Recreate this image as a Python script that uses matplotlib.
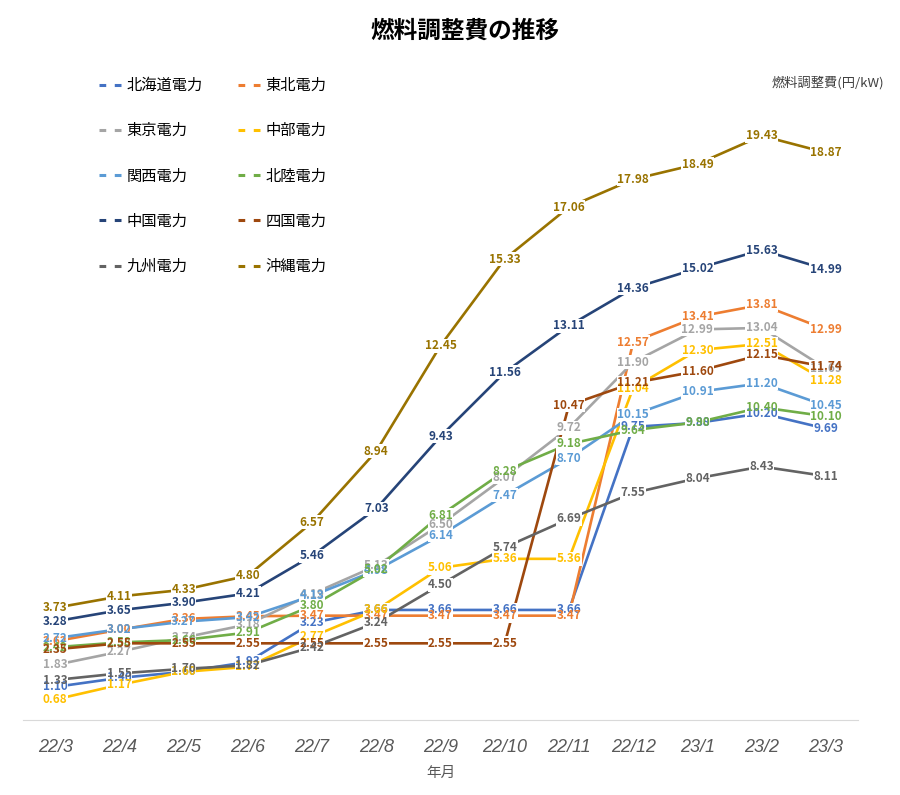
import matplotlib
matplotlib.use('Agg')
import matplotlib.pyplot as plt
from matplotlib.lines import Line2D

plt.rcParams['font.family'] = ['Noto Sans CJK JP', 'DejaVu Sans']

# ===== データ =====
months = ['22/3', '22/4', '22/5', '22/6', '22/7', '22/8', '22/9',
          '22/10', '22/11', '22/12', '23/1', '23/2', '23/3']

hokkaido = [1.10, 1.40, 1.60, 1.93, 3.23, 3.66, 3.66, 3.66, 3.66, 9.75, 9.88, 10.20, 9.69]
tohoku   = [2.62, 3.00, 3.36, 3.45, 3.47, 3.47, 3.47, 3.47, 3.47, 12.57, 13.41, 13.81, 12.99]
tokyo    = [1.83, 2.27, 2.74, 3.18, 4.19, 5.13, 6.50, 8.07, 9.72, 11.90, 12.99, 13.04, 11.69]
chubu    = [0.68, 1.17, 1.60, 1.77, 2.77, 3.66, 5.06, 5.36, 5.36, 11.04, 12.30, 12.51, 11.28]
kansai   = [2.72, 3.02, 3.27, 3.42, 4.13, 4.98, 6.14, 7.47, 8.70, 10.15, 10.91, 11.20, 10.45]
hokuriku = [2.42, 2.58, 2.66, 2.91, 3.80, 5.02, 6.81, 8.28, 9.18, 9.64, 9.90, 10.40, 10.10]
chugoku  = [3.28, 3.65, 3.90, 4.21, 5.46, 7.03, 9.43, 11.56, 13.11, 14.36, 15.02, 15.63, 14.99]
shikoku  = [2.35, 2.55, 2.55, 2.55, 2.55, 2.55, 2.55, 2.55, 10.47, 11.21, 11.60, 12.15, 11.74]
kyushu   = [1.33, 1.55, 1.70, 1.82, 2.42, 3.24, 4.50, 5.74, 6.69, 7.55, 8.04, 8.43, 8.11]
okinawa  = [3.73, 4.11, 4.33, 4.80, 6.57, 8.94, 12.45, 15.33, 17.06, 17.98, 18.49, 19.43, 18.87]

names = ['北海道電力', '東北電力', '東京電力', '中部電力', '関西電力',
         '北陸電力', '中国電力', '四国電力', '九州電力', '沖縄電力']
series = [hokkaido, tohoku, tokyo, chubu, kansai,
          hokuriku, chugoku, shikoku, kyushu, okinawa]
colors = ['#4472C4', '#ED7D31', '#A5A5A5', '#FFC000', '#5B9BD5',
          '#70AD47', '#264478', '#9E480E', '#636363', '#997300']

# ===== 描画 =====
fig = plt.figure(figsize=(9, 7.95), dpi=100)
ax = fig.add_axes([23 / 900, 75 / 795, 835 / 900, 660 / 795])

x = list(range(len(months)))
for vals, c in zip(series, colors):
    ax.plot(x, vals, color=c, linewidth=1.9, solid_capstyle='butt', zorder=2)

# ラベル: 白い背景で線だけを隠し、文字は全部その上に描く
for vals, c in zip(series, colors):
    for xi, v in zip(x, vals):
        ax.text(xi, v, f'{v:.2f}', color='white', fontsize=8.5, fontweight='bold',
                ha='center', va='center', zorder=3,
                bbox=dict(facecolor='white', edgecolor='none', pad=0.3))
for vals, c in zip(series, colors):
    for xi, v in zip(x, vals):
        ax.text(xi, v, f'{v:.2f}', color=c, fontsize=8.5, fontweight='bold',
                ha='center', va='center', zorder=4)

ax.set_xlim(-0.5, 12.5)
ax.set_ylim(0, 21.95)
ax.set_xticks(x)
ax.set_xticklabels(months, fontsize=13, fontstyle='italic', color='#595959',
                   family='Liberation Sans')
ax.tick_params(axis='x', length=0, pad=14)
ax.set_yticks([])
for s in ['top', 'right', 'left']:
    ax.spines[s].set_visible(False)
ax.spines['bottom'].set_color('#D9D9D9')
ax.set_xlabel('年月', fontsize=10.5, color='#595959', labelpad=7)

fig.text(0.517, 0.962, '燃料調整費の推移', fontsize=17, fontweight='bold',
         ha='center', va='center', color='#000000')
fig.text(0.983, 0.896, '燃料調整費(円/kW)', fontsize=9.5, ha='right', va='center',
         color='#404040')

# 凡例 (2列)
order = [0, 2, 4, 6, 8, 1, 3, 5, 7, 9]
handles = [Line2D([0], [0], color=colors[i], linewidth=2.2,
                  linestyle=(0, (2.2, 2.8))) for i in order]
labels = [names[i] for i in order]
fig.legend(handles, labels, loc='upper left', bbox_to_anchor=(0.103, 0.911),
           ncol=2, frameon=False, fontsize=11, handlelength=1.7,
           handletextpad=0.1, labelspacing=1.85, columnspacing=2.3,
           borderaxespad=0)

plt.savefig('out.png', dpi=100)
